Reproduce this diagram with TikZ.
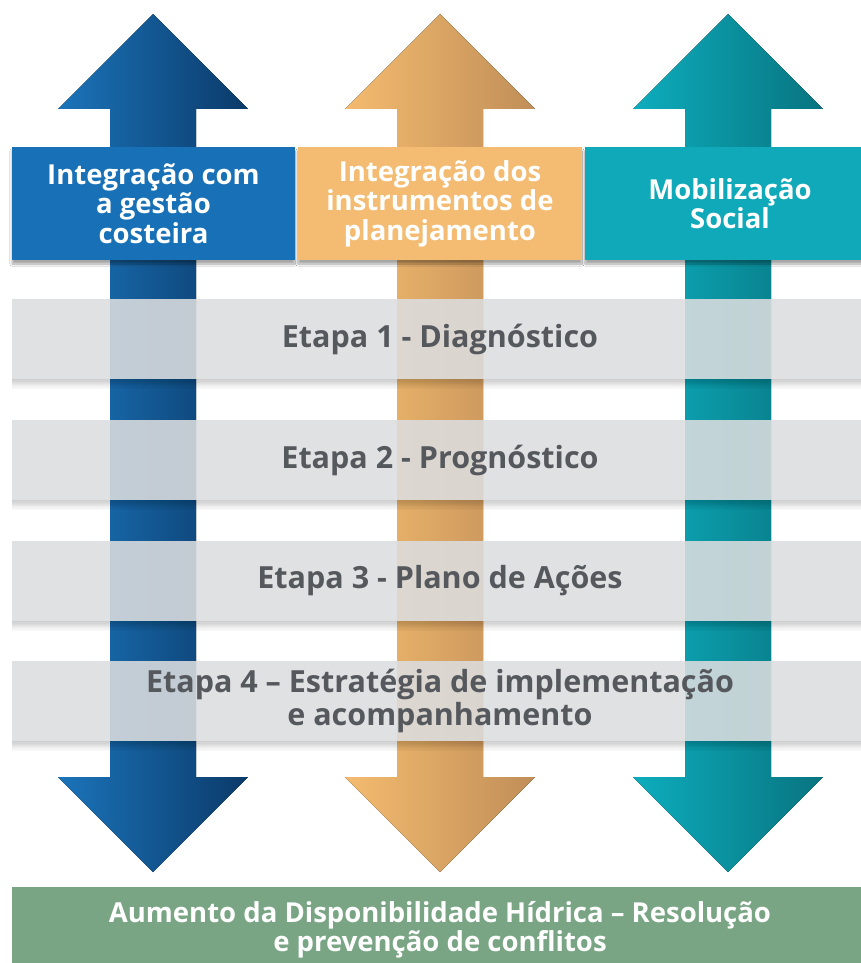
\documentclass[tikz,border=0pt]{standalone}
\usepackage{fontspec}
\setmainfont{Open Sans}
\usetikzlibrary{shadows.blur}

\definecolor{blueL}{HTML}{1B74BA}
\definecolor{blueD}{HTML}{0B3A69}
\definecolor{blueH}{HTML}{1870B6}
\definecolor{orangeL}{HTML}{F4BB6F}
\definecolor{orangeD}{HTML}{C08E58}
\definecolor{orangeH}{HTML}{F4BC72}
\definecolor{tealL}{HTML}{0DADBD}
\definecolor{tealD}{HTML}{087480}
\definecolor{tealH}{HTML}{0FA9B9}
\definecolor{barGray}{HTML}{DCDDDF}
\definecolor{textGray}{HTML}{55595D}
\definecolor{greenB}{HTML}{79A584}

\begin{document}
\begin{tikzpicture}[x=1pt,y=-1pt,
  header/.style={minimum width=284pt, minimum height=113pt, inner sep=0pt,
    align=center, text=white, font=\fontsize{27.5}{29.5}\selectfont\bfseries,
    blur shadow={shadow xshift=0pt, shadow yshift=-4pt, shadow blur steps=8, shadow opacity=35}},
  etapa/.style={fill=barGray, fill opacity=0.88, text opacity=1, minimum width=856pt,
    minimum height=80pt, inner sep=0pt, align=center, text=textGray,
    font=\fontsize{30.5}{33}\selectfont\bfseries},
  result/.style={fill=greenB, minimum width=856pt, minimum height=86pt, inner sep=0pt,
    align=center, text=white, font=\fontsize{27.5}{29}\selectfont\bfseries}]
  \useasboundingbox (0,0) rectangle (861,963);
  \fill[white] (0,0) rectangle (861,963);

  % double arrows
  \foreach \c/\col in {153/blue,440/orange,728/teal}
    \fill[left color=\col L, right color=\col D] (\c,14) -- (\c+95,109) -- (\c+43,109)
      -- (\c+43,777) -- (\c+95,777) -- (\c,872) -- (\c-95,777) -- (\c-43,777)
      -- (\c-43,109) -- (\c-95,109) -- cycle;

  % headers
  \node[header, fill=blueH, minimum width=283pt] (costeira) at (153.5,203.5) {Integração com\\a gestão\\costeira};
  \node[header, fill=orangeH] (planejamento) at (440,203.5) {Integração dos\\instrumentos de\\planejamento};
  \node[header, fill=tealH, minimum width=290pt] (social) at (730,203.5) {Mobilização\\Social};

  % stages
  \node[etapa] (etapa1) at (440,339) {Etapa 1 - Diagnóstico};
  \node[etapa] (etapa2) at (440,460) {Etapa 2 - Prognóstico};
  \node[etapa] (etapa3) at (440,581) {Etapa 3 - Plano de Ações};
  \node[etapa] (etapa4) at (440,701) {Etapa 4 – Estratégia de implementação\\e acompanhamento};
  \foreach \n in {etapa1,etapa2,etapa3,etapa4}
    \foreach \i in {1,...,8}
      \fill[black, opacity=0.025] (\n.south west) rectangle ++(856,1.2*\i);

  \node[result] (aumento) at (440,930) {Aumento da Disponibilidade Hídrica – Resolução\\e prevenção de conflitos};
\end{tikzpicture}
\end{document}
